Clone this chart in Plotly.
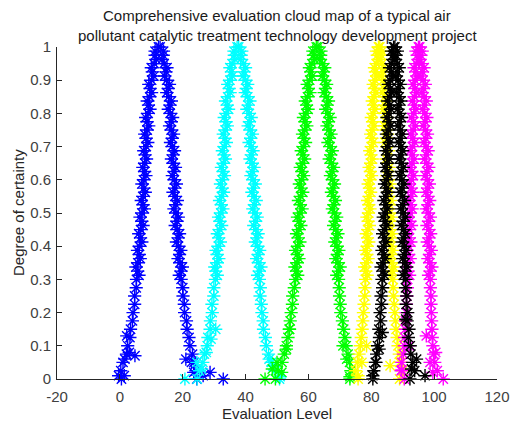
import plotly.graph_objects as go

levels = [1.0, 0.975, 0.95, 0.925, 0.9, 0.875, 0.85, 0.825, 0.8, 0.775, 0.75, 0.725, 0.7,
          0.675, 0.65, 0.625, 0.6, 0.575, 0.55, 0.525, 0.5, 0.475, 0.45, 0.425, 0.4, 0.375,
          0.35, 0.325, 0.3, 0.275, 0.25, 0.225, 0.2, 0.175, 0.15, 0.125, 0.1, 0.075, 0.05,
          0.025, 0.0]
levels_mid = [0.9875, 0.9625, 0.9375, 0.9125, 0.8875, 0.8625, 0.8375, 0.8125, 0.7875, 0.7625,
              0.7375, 0.7125, 0.6875, 0.6625, 0.6375, 0.6125, 0.5875, 0.5625, 0.5375, 0.5125,
              0.4875, 0.4625, 0.4375, 0.4125, 0.3875, 0.3625, 0.3375, 0.3125]

blue_left = [12.3, 11.2, 10.9, 10.3, 10.1, 9.6, 9.5, 9.1, 9.0, 8.6, 8.7, 8.3, 8.4, 8.0, 7.9, 7.9,
             7.5, 7.7, 7.3, 7.4, 7.0, 7.0, 6.6, 6.6, 6.2, 6.2, 5.7, 5.7, 5.3, 5.2, 4.7, 4.7, 4.2,
             4.0, 3.4, 3.2, 2.5, 2.1, 1.0, 0.3, 0.5]
blue_right = [12.8, 13.8, 14.1, 14.7, 14.9, 15.4, 15.5, 16.0, 16.0, 16.4, 16.3, 16.7, 16.6, 17.0,
              16.9, 17.3, 17.3, 17.5, 17.5, 17.8, 17.8, 18.2, 18.2, 18.6, 18.6, 19.0, 19.1, 19.5,
              19.5, 20.0, 20.1, 20.5, 20.6, 21.2, 21.4, 22.0, 22.3, 23.1, 23.6, 24.2, 24.5]
blue_left_mid = [11.2, 11.6, 10.0, 10.8, 9.2, 10.1, 8.7, 9.6, 8.2, 9.2, 7.9, 8.9, 7.6, 8.5, 7.3,
                 8.3, 7.0, 8.1, 6.8, 7.8, 6.4, 7.4, 6.0, 7.0, 5.6, 6.5, 5.1, 6.1]
blue_right_mid = [13.9, 13.4, 15.0, 14.2, 15.8, 14.9, 16.4, 15.4, 16.8, 15.8, 17.1, 16.1, 17.4,
                  16.4, 17.7, 16.7, 18.0, 16.9, 18.3, 17.2, 18.6, 17.6, 19.0, 18.0, 19.4, 18.5,
                  19.9, 18.9]
blue_extra_x = [-0.4, 1.4, 1.6, 3.0, 2.2, 21.0, 23.5, 26.5, 28.7, 32.9, 22.8, 4.8]
blue_extra_y = [0.01, 0.01, 0.06, 0.08, 0.13, 0.06, 0.02, 0.01, 0.02, 0.0, 0.05, 0.07]

cyan_left = [37.3, 36.4, 35.7, 35.5, 35.0, 34.8, 34.3, 34.2, 33.8, 33.8, 33.5, 33.5, 33.2, 33.2,
             32.9, 32.9, 32.6, 32.6, 32.3, 32.3, 32.1, 31.8, 31.8, 31.4, 31.4, 30.9, 31.0, 30.5,
             30.4, 29.9, 29.9, 29.3, 29.4, 28.8, 28.7, 28.0, 27.8, 26.9, 26.4, 25.3, 24.6]
cyan_right = [37.8, 38.6, 39.3, 39.5, 40.0, 40.2, 40.7, 40.8, 41.2, 41.2, 41.5, 41.6, 41.8, 41.8,
              42.1, 42.1, 42.4, 42.5, 42.7, 42.8, 43.0, 43.2, 43.2, 43.6, 43.8, 44.0, 44.1, 44.4,
              44.4, 44.7, 44.6, 45.0, 45.2, 45.6, 45.7, 46.3, 46.6, 47.3, 48.2, 49.5, 50.8]
cyan_left_mid = [36.3, 36.6, 35.0, 35.8, 34.3, 35.1, 33.6, 34.6, 33.2, 34.2, 32.9, 33.9, 32.6,
                 33.6, 32.3, 33.3, 32.0, 33.0, 31.7, 32.8, 31.4, 32.4, 31.0, 32.0, 30.6, 31.5,
                 30.2, 31.0]
cyan_right_mid = [38.8, 38.4, 40.0, 39.2, 40.7, 39.9, 41.4, 40.4, 41.8, 40.8, 42.2, 41.1, 42.4,
                  41.4, 42.7, 41.7, 43.1, 42.0, 43.4, 42.3, 43.7, 42.6, 44.0, 43.1, 44.5, 43.5,
                  44.9, 43.8]
cyan_extra_x = [20.7, 24.5, 26.0, 27.5, 29.0, 30.5, 48.7, 51.0, 47.5]
cyan_extra_y = [0.0, 0.05, 0.03, 0.08, 0.12, 0.15, 0.04, 0.007, 0.06]

green_left = [62.5, 61.6, 61.1, 60.7, 60.4, 60.0, 59.7, 59.4, 59.2, 58.9, 58.8, 58.6, 58.4, 58.2,
              58.1, 57.9, 57.8, 57.6, 57.5, 57.4, 57.3, 57.0, 57.0, 56.7, 56.6, 56.5, 56.4, 56.2,
              55.9, 55.5, 55.0, 54.9, 54.5, 54.2, 53.9, 53.5, 53.0, 52.3, 51.6, 50.4, 49.5]
green_right = [63.0, 63.9, 64.4, 64.8, 65.1, 65.4, 65.7, 66.0, 66.2, 66.4, 66.5, 66.7, 66.9, 67.1,
               67.3, 67.5, 67.7, 67.8, 68.0, 68.1, 68.3, 68.5, 68.7, 68.9, 69.1, 69.2, 69.4, 69.6,
               69.6, 69.8, 69.9, 70.1, 70.3, 70.8, 71.2, 71.6, 72.0, 72.6, 73.1, 73.5, 73.2]
green_left_mid = [61.4, 62.0, 60.3, 61.2, 59.6, 60.5, 59.0, 59.9, 58.4, 59.5, 58.1, 59.1, 57.7,
                  58.8, 57.4, 58.5, 57.1, 58.2, 56.8, 58.0, 56.5, 57.6, 56.2, 57.3, 55.9, 57.0,
                  55.7, 56.6]
green_right_mid = [64.0, 63.6, 65.2, 64.4, 65.8, 65.0, 66.4, 65.5, 66.9, 65.9, 67.2, 66.2, 67.6,
                   66.6, 68.0, 67.0, 68.3, 67.3, 68.6, 67.6, 69.0, 68.0, 69.4, 68.4, 69.7, 68.7,
                   70.1, 69.0]
green_extra_x = [46.2, 48.5, 50.0, 51.5, 53.0, 54.0, 72.2, 73.2, 71.0]
green_extra_y = [0.0, 0.03, 0.05, 0.02, 0.09, 0.15, 0.06, 0.007, 0.1]

yellow_left = [82.3, 81.9, 81.6, 81.3, 81.2, 81.0, 80.9, 80.7, 80.6, 80.4, 80.3, 80.2, 80.0, 79.9,
               79.8, 79.7, 79.6, 79.4, 79.3, 79.2, 79.1, 79.0, 78.9, 78.8, 78.7, 78.6, 78.5, 78.3,
               78.2, 78.0, 77.9, 77.7, 77.5, 77.3, 77.1, 76.8, 76.5, 76.1, 75.6, 75.0, 75.8]
yellow_right = [82.7, 83.2, 83.4, 83.7, 83.8, 84.0, 84.2, 84.3, 84.4, 84.6, 84.7, 84.8, 85.0, 85.1,
                85.2, 85.3, 85.4, 85.6, 85.7, 85.8, 85.9, 86.0, 86.1, 86.2, 86.3, 86.4, 86.5, 86.7,
                86.8, 87.0, 87.1, 87.3, 87.5, 87.7, 87.9, 88.2, 88.5, 88.9, 89.4, 90.0, 89.0]
yellow_left_mid = [81.6, 82.2, 81.0, 81.7, 80.6, 81.4, 80.3, 81.1, 80.0, 80.8, 79.8, 80.6, 79.5,
                   80.3, 79.3, 80.1, 79.0, 79.8, 78.8, 79.6, 78.6, 79.4, 78.4, 79.2, 78.2, 79.0,
                   77.9, 78.7]
yellow_right_mid = [83.4, 82.8, 84.0, 83.2, 84.4, 83.6, 84.7, 83.9, 85.0, 84.2, 85.2, 84.4, 85.5,
                    84.7, 85.7, 84.9, 86.0, 85.2, 86.2, 85.4, 86.4, 85.6, 86.6, 85.8, 86.8, 86.0,
                    87.1, 86.3]
yellow_extra_x = [75.8, 77.0, 86.0, 89.1, 78.5]
yellow_extra_y = [0.01, 0.05, 0.04, 0.05, 0.1]

magenta_left = [95.0, 94.6, 94.3, 94.2, 93.9, 93.9, 93.7, 93.7, 93.5, 93.4, 93.3, 93.2, 93.1, 93.0,
                92.9, 92.9, 92.7, 92.7, 92.5, 92.5, 92.3, 92.3, 92.1, 92.1, 91.9, 91.9, 91.7, 91.7,
                91.5, 91.5, 91.3, 91.2, 91.1, 90.9, 90.8, 90.6, 90.5, 90.2, 89.7, 89.5, 90.5]
magenta_right = [95.4, 95.8, 96.1, 96.3, 96.5, 96.6, 96.8, 96.9, 97.0, 97.1, 97.2, 97.3, 97.4, 97.5,
                 97.6, 97.7, 97.8, 97.9, 98.0, 98.0, 98.1, 98.2, 98.3, 98.3, 98.4, 98.5, 98.6, 98.7,
                 98.8, 98.8, 99.0, 99.0, 99.1, 99.2, 99.3, 99.4, 99.6, 99.8, 100.2, 101.0, 102.9]
magenta_left_mid = [94.2, 95.0, 93.6, 94.6, 93.3, 94.4, 93.1, 94.2, 92.8, 94.0, 92.6, 93.8, 92.4,
                    93.6, 92.3, 93.4, 92.1, 93.2, 91.9, 93.0, 91.7, 92.8, 91.5, 92.6, 91.3, 92.4,
                    91.1, 92.2]
magenta_right_mid = [96.2, 95.4, 96.8, 95.8, 97.2, 96.1, 97.5, 96.4, 97.7, 96.6, 97.9, 96.8, 98.1,
                     97.0, 98.3, 97.2, 98.5, 97.4, 98.6, 97.5, 98.8, 97.7, 98.9, 97.8, 99.1, 98.0,
                     99.3, 98.2]
magenta_extra_x = [89.7, 99.6, 98.7, 100.5, 92.0, 97.5]
magenta_extra_y = [0.027, 0.02, 0.05, 0.08, 0.1, 0.13]

black_left = [87.1, 86.8, 86.3, 86.4, 85.9, 86.1, 85.7, 85.9, 85.5, 85.7, 85.3, 85.5, 85.1, 85.3,
              84.9, 85.1, 84.7, 84.9, 84.5, 84.7, 84.3, 84.5, 84.1, 84.3, 83.9, 84.1, 83.6, 83.9,
              83.4, 83.6, 83.1, 83.3, 82.8, 83.0, 82.4, 82.6, 82.0, 81.7, 81.3, 80.8, 80.5]
black_right = [87.5, 87.9, 88.3, 88.2, 88.6, 88.5, 88.9, 88.7, 89.1, 88.9, 89.3, 89.1, 89.5, 89.3,
               89.7, 89.5, 89.8, 89.7, 90.0, 89.9, 90.2, 90.1, 90.4, 90.2, 90.6, 90.4, 90.8, 90.6,
               91.0, 90.9, 91.3, 91.1, 91.6, 91.4, 92.0, 91.8, 92.4, 92.6, 93.2, 93.8, 92.3]
black_left_mid = [86.4, 87.2, 85.8, 86.8, 85.4, 86.5, 85.2, 86.3, 85.0, 86.1, 84.8, 85.9, 84.6,
                  85.7, 84.4, 85.5, 84.2, 85.3, 84.0, 85.1, 83.8, 84.9, 83.6, 84.7, 83.4, 84.4,
                  83.1, 84.2]
black_right_mid = [88.3, 87.5, 88.9, 87.8, 89.2, 88.1, 89.4, 88.3, 89.6, 88.5, 89.8, 88.7, 90.0,
                   88.9, 90.2, 89.0, 90.4, 89.2, 90.6, 89.4, 90.8, 89.6, 90.9, 89.8, 91.1, 90.0,
                   91.3, 90.2]
black_extra_x = [80.5, 81.5, 82.5, 97.1, 94.4, 92.8, 83.5, 91.0]
black_extra_y = [0.01, 0.05, 0.09, 0.01, 0.06, 0.03, 0.14, 0.18]

x_tick_values = [-20, 0, 20, 40, 60, 80, 100, 120]
x_tick_labels = ["-20", "0", "20", "40", "60", "80", "100", "120"]
title_lines = ["Comprehensive evaluation cloud map of a typical air",
               "pollutant catalytic treatment technology development project"]
x_label = "Evaluation Level"
y_label = "Degree of certainty"

clouds = [
    ("blue", blue_left, blue_right, blue_left_mid, blue_right_mid, blue_extra_x, blue_extra_y, "#0000ff"),
    ("cyan", cyan_left, cyan_right, cyan_left_mid, cyan_right_mid, cyan_extra_x, cyan_extra_y, "#00ffff"),
    ("green", green_left, green_right, green_left_mid, green_right_mid, green_extra_x, green_extra_y, "#00ff00"),
    ("yellow", yellow_left, yellow_right, yellow_left_mid, yellow_right_mid, yellow_extra_x, yellow_extra_y, "#ffff00"),
    ("magenta", magenta_left, magenta_right, magenta_left_mid, magenta_right_mid, magenta_extra_x, magenta_extra_y, "#ff00ff"),
    ("black", black_left, black_right, black_left_mid, black_right_mid, black_extra_x, black_extra_y, "#000000"),
]

fig = go.Figure()
for name, left, right, lmid, rmid, ex, ey, col in clouds:
    n = min(len(levels), len(left), len(right))
    m = min(len(levels_mid), len(lmid), len(rmid))
    fig.add_trace(go.Scatter(
        x=left[:n] + right[:n] + lmid[:m] + rmid[:m] + ex,
        y=levels[:n] + levels[:n] + levels_mid[:m] + levels_mid[:m] + ey,
        mode="markers",
        name=name,
        cliponaxis=False,
        marker=dict(symbol="asterisk-open", size=11, color=col,
                    line=dict(color=col, width=1.4)),
        showlegend=False,
        hoverinfo="skip",
    ))

font_family = "Liberation Sans, Arial, sans-serif"
W, H = 511, 423
PL, PR, PT, PB = 57, 497, 47, 379   # plot area in pixels
pw, ph = PR - PL, PB - PT

annotations = []
for i, line in enumerate(title_lines):
    ypx = 15.5 + 20 * i
    annotations.append(dict(
        text=line, xref="paper", yref="paper", x=0.5, y=1 + (PT - ypx) / ph,
        xanchor="center", yanchor="middle", showarrow=False,
        font=dict(family=font_family, size=15, color="#1a1a1a"),
    ))
annotations.append(dict(
    text=x_label, xref="paper", yref="paper", x=0.5, y=-(413 - PB) / ph,
    xanchor="center", yanchor="middle", showarrow=False,
    font=dict(family=font_family, size=15, color="#262626"),
))
annotations.append(dict(
    text=y_label, xref="paper", yref="paper", x=-(PL - 18) / pw, y=0.5,
    xanchor="center", yanchor="middle", showarrow=False, textangle=-90,
    font=dict(family=font_family, size=15, color="#262626"),
))

fig.update_layout(
    width=W, height=H,
    margin=dict(l=PL, r=W - PR, t=PT, b=H - PB),
    paper_bgcolor="white", plot_bgcolor="white",
    font=dict(family=font_family, size=15, color="#262626"),
    annotations=annotations,
    hovermode=False,
    xaxis=dict(
        range=[-20, 120], tickmode="array", tickvals=x_tick_values, ticktext=x_tick_labels,
        automargin=False,
        ticks="inside", ticklen=5, tickcolor="#262626",
        showline=True, linecolor="#262626", linewidth=1,
        showgrid=False, zeroline=False, ticklabelstandoff=4,
        tickfont=dict(size=15, color="#404040"),
    ),
    yaxis=dict(
        range=[0, 1], dtick=0.1, tick0=0, automargin=False,
        ticks="inside", ticklen=5, tickcolor="#262626",
        showline=True, linecolor="#262626", linewidth=1,
        showgrid=False, zeroline=False, ticklabelstandoff=2,
        tickfont=dict(size=15, color="#404040"),
    ),
)

fig.write_html("out.html",
               config={"displayModeBar": False},
               post_script="document.body.style.margin='0';document.body.style.overflow='hidden';")
